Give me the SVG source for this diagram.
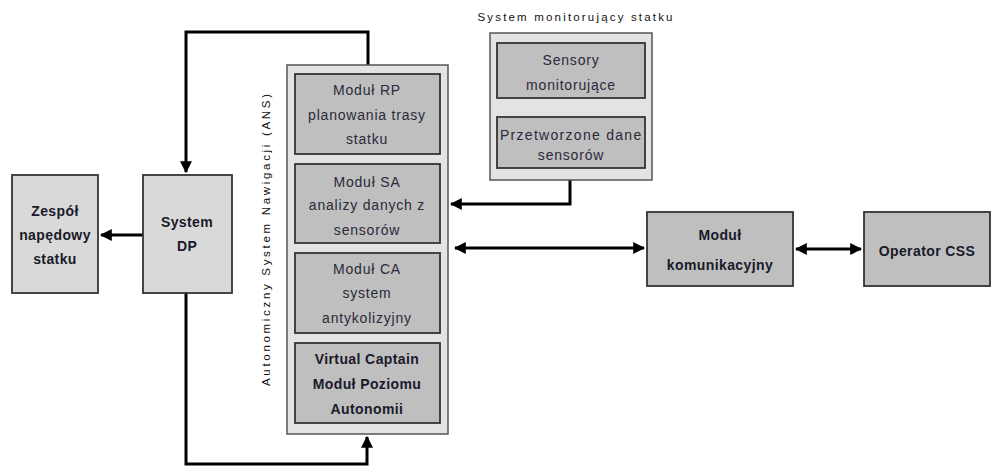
<svg xmlns="http://www.w3.org/2000/svg" width="1000" height="468" viewBox="0 0 1000 468">
<defs>
<style>
.outer{fill:#e3e3e3;stroke:#555;stroke-width:1.5}
.light{fill:#d9d9d9;stroke:#333;stroke-width:1.8}
.mod{fill:#bfbfbf;stroke:#333;stroke-width:1.8}
.t{font-family:"Liberation Sans",Arial,sans-serif;font-size:14px;letter-spacing:0.8px;fill:#2a2a3a;text-anchor:middle}
.b{font-weight:bold;fill:#1a1a2a;letter-spacing:0.4px}
.lbl{font-family:"Liberation Sans",Arial,sans-serif;font-size:11.5px;fill:#111}
.c{fill:none;stroke:#000;stroke-width:3}
</style>
<marker id="ah" viewBox="0 0 10 10" refX="9" refY="5" markerWidth="4" markerHeight="4" orient="auto-start-reverse" markerUnits="strokeWidth">
<path d="M0,0 L10,5 L0,10 z" fill="#000"/>
</marker>
</defs>
<rect width="1000" height="468" fill="#fff"/>

<g id="connectors">
<polyline class="c" points="368,65 368,32 186,32 186,172" marker-end="url(#ah)"/>
<line class="c" x1="143" y1="235" x2="101" y2="235" marker-end="url(#ah)"/>
<polyline class="c" points="186,293 186,464 367,464 367,437" marker-end="url(#ah)"/>
<polyline class="c" points="570,168 570,204 451,204" marker-end="url(#ah)"/>
<line x1="570" y1="98" x2="570" y2="117" stroke="#000" stroke-width="2.5"/>
<line class="c" x1="455" y1="248" x2="644" y2="248" marker-start="url(#ah)" marker-end="url(#ah)"/>
<line class="c" x1="796" y1="249" x2="861" y2="249" marker-start="url(#ah)" marker-end="url(#ah)"/>
</g>

<g id="zespol">
<rect class="light" x="12" y="175" width="86" height="118"/>
<text class="t b" x="55" y="216">Zespół</text>
<text class="t b" x="55" y="240">napędowy</text>
<text class="t b" x="55" y="264">statku</text>
</g>

<g id="system-dp">
<rect class="light" x="143" y="175" width="89" height="118"/>
<text class="t b" x="187" y="227">System</text>
<text class="t b" x="187" y="251">DP</text>
</g>

<g id="ans">
<rect class="outer" x="287" y="65" width="161" height="369"/>
<text class="lbl" transform="translate(270,240) rotate(-90)" text-anchor="middle" textLength="292" lengthAdjust="spacing">Autonomiczny System Nawigacji (ANS)</text>
</g>

<g id="modul-rp">
<rect class="mod" x="295" y="74" width="145" height="80"/>
<text class="t" x="367" y="95">Moduł RP</text>
<text class="t" x="367" y="120">planowania trasy</text>
<text class="t" x="367" y="144">statku</text>
</g>

<g id="modul-sa">
<rect class="mod" x="295" y="164" width="145" height="79"/>
<text class="t" x="367" y="187">Moduł SA</text>
<text class="t" x="367" y="210">analizy danych z</text>
<text class="t" x="367" y="235">sensorów</text>
</g>

<g id="modul-ca">
<rect class="mod" x="295" y="253" width="145" height="80"/>
<text class="t" x="367" y="274">Moduł CA</text>
<text class="t" x="367" y="298">system</text>
<text class="t" x="367" y="323">antykolizyjny</text>
</g>

<g id="virtual-captain">
<rect class="mod" x="295" y="343" width="145" height="80"/>
<text class="t b" x="367" y="364">Virtual Captain</text>
<text class="t b" x="367" y="389">Moduł Poziomu</text>
<text class="t b" x="367" y="414">Autonomii</text>
</g>

<g id="monitoring">
<text class="lbl" x="575" y="21" text-anchor="middle" textLength="195" lengthAdjust="spacing">System monitorujący statku</text>
<rect class="outer" x="490" y="33" width="162" height="147"/>
</g>

<g id="sensory">
<rect class="mod" x="497" y="43" width="148" height="55"/>
<text class="t" x="571" y="65">Sensory</text>
<text class="t" x="571" y="90">monitorujące</text>
</g>

<g id="przetworzone">
<rect class="mod" x="497" y="117" width="148" height="51"/>
<text class="t" x="571" y="140" textLength="142" lengthAdjust="spacing">Przetworzone dane</text>
<text class="t" x="571" y="160">sensorów</text>
</g>

<g id="komunikacyjny">
<rect class="mod" x="647" y="212" width="146" height="74"/>
<text class="t b" x="720" y="240">Moduł</text>
<text class="t b" x="720" y="270">komunikacyjny</text>
</g>

<g id="operator">
<rect class="mod" x="864" y="212" width="126" height="74"/>
<text class="t b" x="927" y="256">Operator CSS</text>
</g>
</svg>
